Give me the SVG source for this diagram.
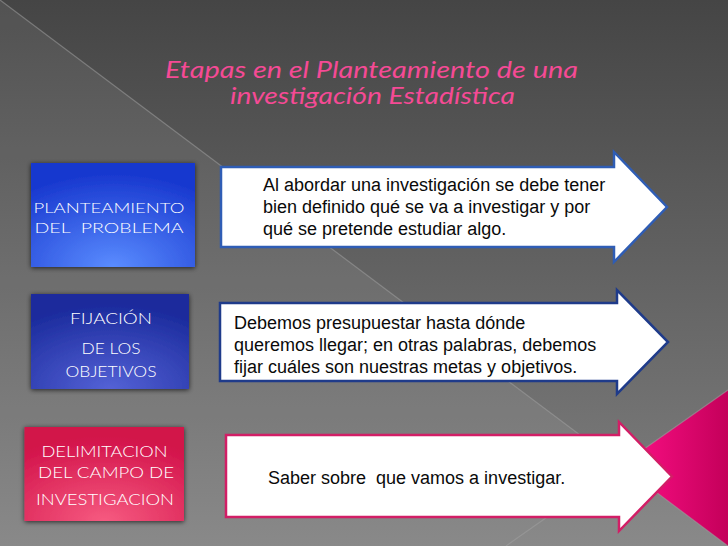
<svg xmlns="http://www.w3.org/2000/svg" width="728" height="546" viewBox="0 0 728 546">
<style>
.title{font-family:"Lato","Open Sans","DejaVu Sans",sans-serif;font-style:italic;font-size:23px;fill:#f54a95;text-anchor:middle}
.lbl{font-family:"Lato","Noto Sans","DejaVu Sans",sans-serif;font-weight:300;fill:#ffffff;text-anchor:middle}
.txt{font-family:"Liberation Sans",Arial,sans-serif;font-size:18px;fill:#0a0a0a;white-space:pre}
.hl{stroke:#a0a0a0;stroke-opacity:0.55;stroke-width:1.2;fill:none}
</style>
<defs>
<linearGradient id="bg" x1="0" y1="0" x2="0" y2="1">
<stop offset="0" stop-color="#454545"/>
<stop offset="1" stop-color="#808080"/>
</linearGradient>
<linearGradient id="pink" x1="0" y1="0" x2="1" y2="0">
<stop offset="0" stop-color="#ff1088"/>
<stop offset="1" stop-color="#c4005a"/>
</linearGradient>
<radialGradient id="g1" cx="0.5" cy="1" r="0.9">
<stop offset="0" stop-color="#5a8cff"/>
<stop offset="1" stop-color="#1838cf"/>
</radialGradient>
<radialGradient id="g2" cx="0.5" cy="1" r="0.9">
<stop offset="0" stop-color="#5462d6"/>
<stop offset="1" stop-color="#1a2a9c"/>
</radialGradient>
<radialGradient id="g3" cx="0.5" cy="1" r="0.9">
<stop offset="0" stop-color="#f65a80"/>
<stop offset="1" stop-color="#d2124a"/>
</radialGradient>
<filter id="sh" x="-10%" y="-10%" width="120%" height="125%">
<feDropShadow dx="0" dy="1" stdDeviation="2.5" flood-color="#000" flood-opacity="0.7"/>
</filter>
</defs>

<rect width="728" height="546" fill="url(#bg)"/>
<polygon points="0,0 728,546 0,546" fill="#ffffff" fill-opacity="0.07"/>
<polygon points="620.6,465.4 728,390 728,546" fill="url(#pink)"/>
<line class="hl" x1="0" y1="0" x2="728" y2="546"/>
<line class="hl" x1="506" y1="546" x2="728" y2="390"/>

<g id="title">
<text class="title" x="371.5" y="78" textLength="413" lengthAdjust="spacingAndGlyphs">Etapas en el Planteamiento de una</text>
<text class="title" x="372.5" y="104" textLength="285" lengthAdjust="spacingAndGlyphs">investigación Estadística</text>
</g>

<g id="box-planteamiento">
<rect x="31" y="163" width="164" height="104" fill="url(#g1)" filter="url(#sh)"/>
<text class="lbl" x="109" y="213" font-size="14.5" textLength="151" lengthAdjust="spacingAndGlyphs">PLANTEAMIENTO</text>
<text class="lbl" x="109" y="233" font-size="14.5" textLength="149" lengthAdjust="spacingAndGlyphs" xml:space="preserve">DEL  PROBLEMA</text>
</g>

<g id="box-fijacion">
<rect x="31" y="294" width="158" height="95" fill="url(#g2)" filter="url(#sh)"/>
<text class="lbl" x="111" y="324" font-size="15" textLength="82" lengthAdjust="spacingAndGlyphs">FIJACIÓN</text>
<text class="lbl" x="111" y="354" font-size="15" textLength="59" lengthAdjust="spacingAndGlyphs">DE LOS</text>
<text class="lbl" x="111" y="377" font-size="15" textLength="91" lengthAdjust="spacingAndGlyphs">OBJETIVOS</text>
</g>

<g id="box-delimitacion">
<rect x="24.5" y="427" width="159.5" height="94" fill="url(#g3)" filter="url(#sh)"/>
<text class="lbl" x="104.5" y="457" font-size="16" textLength="126" lengthAdjust="spacingAndGlyphs">DELIMITACION</text>
<text class="lbl" x="106" y="478" font-size="16" textLength="136" lengthAdjust="spacingAndGlyphs">DEL CAMPO DE</text>
<text class="lbl" x="105" y="505" font-size="16" textLength="138" lengthAdjust="spacingAndGlyphs">INVESTIGACION</text>
</g>

<g id="arrow-1">
<path d="M221,167 H614 V152 L667,207 L614,262 V247 H221 Z" fill="#ffffff" stroke="#2f5db5" stroke-width="2.5" stroke-linejoin="miter"/>
<text class="txt" x="263" y="190.5">Al abordar una investigación se debe tener</text>
<text class="txt" x="263" y="212.5">bien definido qué se va a investigar y por</text>
<text class="txt" x="263" y="234.5">qué se pretende estudiar algo.</text>
</g>

<g id="arrow-2">
<path d="M220,303 H617 V290 L668,342 L617,394 V381 H220 Z" fill="#ffffff" stroke="#1f3b8a" stroke-width="2.5"/>
<text class="txt" x="234" y="329">Debemos presupuestar hasta dónde</text>
<text class="txt" x="234" y="351">queremos llegar; en otras palabras, debemos</text>
<text class="txt" x="234" y="373">fijar cuáles son nuestras metas y objetivos.</text>
</g>

<g id="arrow-3">
<path d="M226,435 H619 V422 L672,476.5 L619,531 V517 H226 Z" fill="#ffffff" stroke="#d21e66" stroke-width="2.5"/>
<text class="txt" x="268" y="484" xml:space="preserve">Saber sobre  que vamos a investigar.</text>
</g>

<g id="connectors"></g>
</svg>
